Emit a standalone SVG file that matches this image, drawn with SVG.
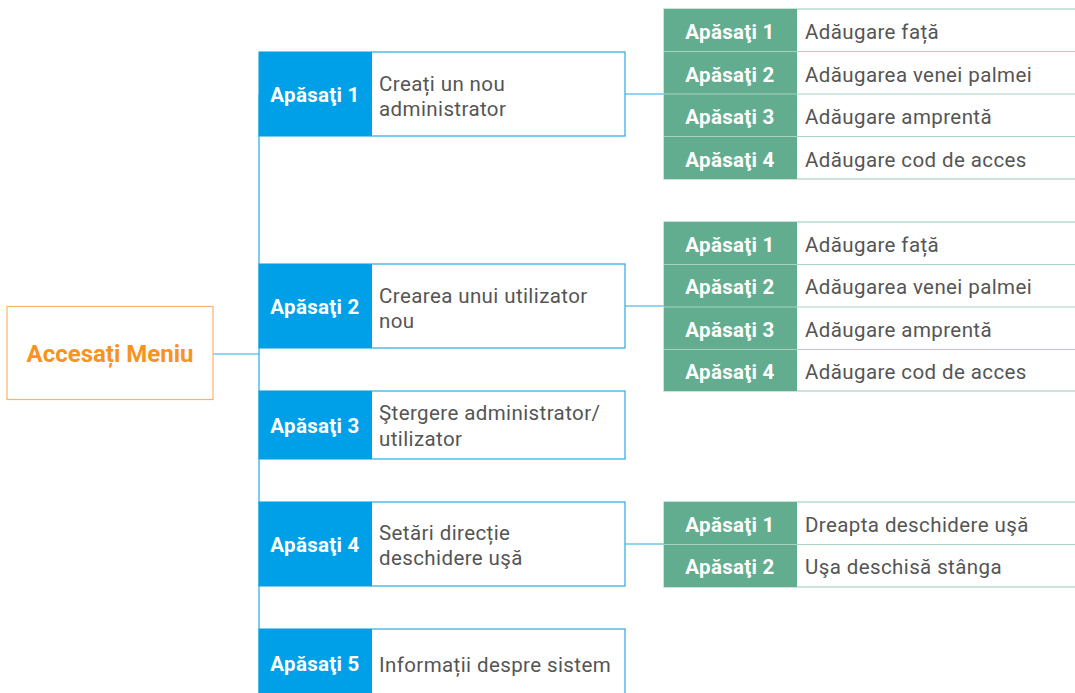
<svg xmlns="http://www.w3.org/2000/svg" width="1075" height="693" viewBox="0 0 1075 693">
<style>
.lbl{font-family:Roboto,"Liberation Sans",sans-serif;font-size:20.5px;letter-spacing:0.3px;font-weight:bold;fill:#fff;text-anchor:middle}
.txt{font-family:Roboto,"Liberation Sans",sans-serif;font-size:20.5px;letter-spacing:0.4px;fill:#555}
.box{fill:#fff;stroke:#29ABE2;stroke-width:1.2}
.blue{fill:#00A0E9}
.grn{fill:#62AD8F}
.row{fill:#fff;stroke:#A6D4C1;stroke-width:1.2}
.sep{stroke:#A6D4C1;stroke-width:1.2}
.con{stroke:#29ABE2;stroke-width:1.2;fill:none}
</style>
<rect width="1075" height="693" fill="#fff"/>
<g id="connectors">
<line class="con" x1="213" y1="354" x2="259" y2="354"/>
<line class="con" x1="259" y1="94" x2="259" y2="693"/>
<line class="con" x1="625" y1="94" x2="664" y2="94"/>
<line class="con" x1="625" y1="306" x2="664" y2="306"/>
<line class="con" x1="625" y1="544" x2="664" y2="544"/>
</g>
<g id="root">
<rect x="7" y="306.5" width="206" height="93" fill="#fff" stroke="#F9B46B" stroke-width="1.2"/>
<text x="110" y="362" font-family="Roboto,'Liberation Sans',sans-serif" font-size="24" font-weight="bold" fill="#F7931E" text-anchor="middle">Accesați Meniu</text>
</g>
<g id="m1">
<rect class="box" x="259" y="52" width="366" height="84"/>
<rect class="blue" x="259" y="52" width="113" height="84"/>
<text class="lbl" x="315" y="102">Apăsaţi 1</text>
<text class="txt" x="379" y="91">Creați un nou</text>
<text class="txt" x="379" y="116">administrator</text>
</g>
<g id="m2">
<rect class="box" x="259" y="264" width="366" height="84"/>
<rect class="blue" x="259" y="264" width="113" height="84"/>
<text class="lbl" x="315" y="314">Apăsaţi 2</text>
<text class="txt" x="379" y="303">Crearea unui utilizator</text>
<text class="txt" x="379" y="328">nou</text>
</g>
<g id="m3">
<rect class="box" x="259" y="391" width="366" height="68"/>
<rect class="blue" x="259" y="391" width="113" height="68"/>
<text class="lbl" x="315" y="433">Apăsaţi 3</text>
<text class="txt" x="379" y="420">Ştergere administrator/</text>
<text class="txt" x="379" y="446">utilizator</text>
</g>
<g id="m4">
<rect class="box" x="259" y="502" width="366" height="84"/>
<rect class="blue" x="259" y="502" width="113" height="84"/>
<text class="lbl" x="315" y="552">Apăsaţi 4</text>
<text class="txt" x="379" y="540">Setări direcție</text>
<text class="txt" x="379" y="565">deschidere uşă</text>
</g>
<g id="m5">
<rect class="box" x="259" y="629" width="366" height="70"/>
<rect class="blue" x="259" y="629" width="113" height="70"/>
<text class="lbl" x="315" y="671">Apăsaţi 5</text>
<text class="txt" x="379" y="671.5">Informații despre sistem</text>
</g>
<g id="s1">
<rect class="row" x="664" y="9" width="415" height="170"/>
<rect class="grn" x="664" y="9" width="133" height="170"/>
<line class="sep" x1="664" y1="51.5" x2="1075" y2="51.5"/>
<line class="sep" x1="664" y1="94" x2="1075" y2="94"/>
<line class="sep" x1="664" y1="136.5" x2="1075" y2="136.5"/>
<text class="lbl" x="730" y="39">Apăsaţi 1</text>
<text class="lbl" x="730" y="82">Apăsaţi 2</text>
<text class="lbl" x="730" y="124">Apăsaţi 3</text>
<text class="lbl" x="730" y="167">Apăsaţi 4</text>
<text class="txt" x="805" y="39">Adăugare față</text>
<text class="txt" x="805" y="82">Adăugarea venei palmei</text>
<text class="txt" x="805" y="124">Adăugare amprentă</text>
<text class="txt" x="805" y="167">Adăugare cod de acces</text>
</g>
<g id="s2">
<rect class="row" x="664" y="222" width="415" height="169"/>
<rect class="grn" x="664" y="222" width="133" height="169"/>
<line class="sep" x1="664" y1="264.5" x2="1075" y2="264.5"/>
<line class="sep" x1="664" y1="307" x2="1075" y2="307"/>
<line class="sep" x1="664" y1="349.5" x2="1075" y2="349.5"/>
<text class="lbl" x="730" y="252">Apăsaţi 1</text>
<text class="lbl" x="730" y="294">Apăsaţi 2</text>
<text class="lbl" x="730" y="337">Apăsaţi 3</text>
<text class="lbl" x="730" y="379">Apăsaţi 4</text>
<text class="txt" x="805" y="252">Adăugare față</text>
<text class="txt" x="805" y="294">Adăugarea venei palmei</text>
<text class="txt" x="805" y="337">Adăugare amprentă</text>
<text class="txt" x="805" y="379">Adăugare cod de acces</text>
</g>
<g id="s3">
<rect class="row" x="664" y="502" width="415" height="85"/>
<rect class="grn" x="664" y="502" width="133" height="85"/>
<line class="sep" x1="664" y1="544.5" x2="1075" y2="544.5"/>
<text class="lbl" x="730" y="532">Apăsaţi 1</text>
<text class="lbl" x="730" y="574">Apăsaţi 2</text>
<text class="txt" x="805" y="532">Dreapta deschidere uşă</text>
<text class="txt" x="805" y="574">Uşa deschisă stânga</text>
</g>
</svg>
